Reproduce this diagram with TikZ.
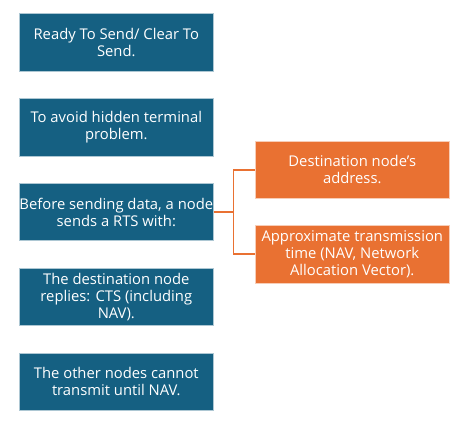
\documentclass[tikz,border=0pt]{standalone}
\usepackage{fontspec}
\setmainfont{Open Sans}
\usetikzlibrary{positioning}
\definecolor{boxblue}{HTML}{156082}
\definecolor{boxorange}{HTML}{E97132}
\tikzset{%
	bluebox/.style={rectangle, fill=boxblue, draw=boxblue!35!white, line width=0.6pt,
		text=white, minimum width=194pt, minimum height=57.5pt,
		inner sep=0.5pt, align=center, font=\fontsize{14.8}{17}\selectfont},
	orangebox/.style={bluebox, fill=boxorange, draw=boxorange!35!white},
	bracket/.style={draw=boxorange, line width=1.6pt}
}

\begin{document}
\begin{tikzpicture}[node distance=26.7pt and 41pt]
\useasboundingbox (0,0) rectangle (466pt,-429pt);
\node (rts_cts) [bluebox, anchor=north west] at (19pt,-13.3pt) {Ready To Send/ Clear To\\Send.};
\node (hidden) [bluebox, below= of rts_cts] {To avoid hidden terminal\\problem.};
\node (before) [bluebox, below= of hidden] {Before sending data, a node\\sends a RTS with:};
\node (replies) [bluebox, below= of before] {The destination node\\replies: CTS (including\\NAV).};
\node (others) [bluebox, below= of replies] {The other nodes cannot\\transmit until NAV.};
\node (address) [orangebox, right= of before, yshift=42.2pt] {Destination node’s\\address.};
\node (nav_time) [orangebox, right= of before, yshift=-42.2pt] {Approximate transmission\\time (NAV, Network\\Allocation Vector).};

\draw[bracket] (before.east) -- ++(19.7pt,0) |- (address.west);
\draw[bracket] (before.east) -- ++(19.7pt,0) |- (nav_time.west);

\end{tikzpicture}
\end{document}
